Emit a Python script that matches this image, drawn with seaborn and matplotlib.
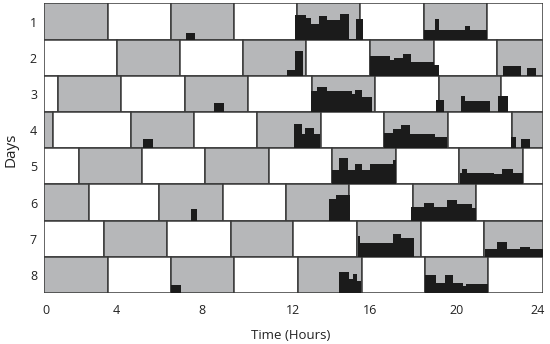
import matplotlib
matplotlib.use("Agg")
import matplotlib.pyplot as plt
from matplotlib.patches import Rectangle
import seaborn as sns

sns.set_theme(style="white")
plt.rcParams["font.family"] = ["Open Sans", "DejaVu Sans"]

# ---- data -------------------------------------------------------------
days = [1, 2, 3, 4, 5, 6, 7, 8]

# Boundaries (hours) of the alternating light/dark blocks on each day
block_edges = [
    [0, 3.06, 6.11, 9.15, 12.15, 15.21, 18.27, 21.31, 24],
    [0, 3.50, 6.54, 9.58, 12.60, 15.67, 18.75, 21.80, 24],
    [0, 0.66, 3.72, 6.76, 9.81, 12.87, 15.91, 18.98, 22.00, 24],
    [0, 0.45, 4.17, 7.20, 10.26, 13.30, 16.36, 19.41, 22.49, 24],
    [0, 1.67, 4.71, 7.76, 10.81, 13.87, 16.92, 19.98, 23.03, 24],
    [0, 2.18, 5.55, 8.60, 11.64, 14.69, 17.73, 20.78, 24],
    [0, 2.89, 5.91, 8.98, 11.99, 15.07, 18.12, 21.18, 24],
    [0, 3.06, 6.09, 9.14, 12.23, 15.28, 18.33, 21.37, 24],
]
# Does the day start with a dark (grey) block?
starts_dark = [True, False, False, True, False, True, False, True]

# Activity bouts: day, bin edges (hours), relative activity per bin
bout_day = [1, 1, 1,
            2, 2, 2,
            3, 3, 3,
            4, 4, 4, 4,
            5, 5,
            6, 6, 6,
            7, 7,
            8, 8, 8]
bout_edges = [
    [6.83, 7.28],
    [12.09, 12.60, 12.83, 13.24, 13.60, 14.24, 14.69, 15.01, 15.36],
    [18.29, 18.81, 19.01, 20.27, 20.48, 21.32],
    [11.70, 12.07, 12.47],
    [15.68, 16.64, 16.85, 17.25, 17.65, 18.76, 18.99],
    [22.08, 22.96, 23.22, 23.67],
    [8.20, 8.66],
    [12.83, 13.12, 13.60, 14.80, 14.96, 15.31, 15.76],
    [18.86, 19.24, 20.04, 20.25, 21.45, 21.85, 22.33],
    [4.78, 5.22],
    [12.03, 12.43, 12.56, 12.97, 13.28],
    [16.37, 16.80, 17.17, 17.60, 18.82, 19.37],
    [22.46, 22.68, 22.93, 23.38],
    [13.87, 14.21, 14.64, 14.94, 15.30, 15.66, 16.79, 16.92],
    [20.02, 20.08, 20.35, 21.62, 22.03, 22.54, 23.03],
    [7.07, 7.36],
    [13.72, 14.03, 14.27, 14.72],
    [17.65, 18.29, 18.77, 19.37, 19.87, 20.57, 20.78],
    [15.08, 15.22, 16.77, 17.19, 17.81],
    [21.19, 21.77, 22.29, 22.91, 23.38, 24.00],
    [6.11, 6.59],
    [14.18, 14.69, 14.86, 15.07, 15.24],
    [18.34, 18.85, 19.27, 19.65, 20.17, 20.31, 21.37],
]
bout_levels = [
    [0.17],
    [0.67, 0.59, 0.42, 0.65, 0.54, 0.72, 0.03, 0.56],
    [0.26, 0.58, 0.26, 0.39, 0.26],
    [0.15, 0.69],
    [0.55, 0.44, 0.49, 0.61, 0.37, 0.29],
    [0.26, 0.0, 0.23],
    [0.24],
    [0.59, 0.68, 0.57, 0.51, 0.61, 0.41],
    [0.33, 0.0, 0.43, 0.31, 0.0, 0.43],
    [0.25],
    [0.68, 0.40, 0.56, 0.40],
    [0.42, 0.52, 0.63, 0.39, 0.30],
    [0.30, 0.0, 0.25],
    [0.39, 0.72, 0.41, 0.56, 0.41, 0.56, 0.67],
    [0.32, 0.44, 0.32, 0.30, 0.44, 0.32],
    [0.32],
    [0.61, 0.70, 0.72],
    [0.39, 0.50, 0.39, 0.58, 0.45, 0.36],
    [0.59, 0.39, 0.63, 0.52],
    [0.21, 0.40, 0.23, 0.27, 0.22],
    [0.22],
    [0.59, 0.39, 0.54, 0.34],
    [0.49, 0.28, 0.49, 0.28, 0.20, 0.26],
]

hour_labels = ["0", "4", "8", "12", "16", "20", "24"]
hour_label_pos = [0.08, 3.48, 7.61, 11.99, 15.68, 19.85, 23.76]

# ---- styling ----------------------------------------------------------
dark_fill = "#b6b7b9"
light_fill = "#ffffff"
edge_col = "#3a3a3a"
act_col = "#1b1b1b"

fig = plt.figure(figsize=(5.5, 3.44), dpi=100)
ax = fig.add_axes([0.08, 0.148, 0.9073, 0.842])

# light/dark blocks, one row per day (day 1 on top)
for row, (edges, dark) in enumerate(zip(block_edges, starts_dark)):
    for k in range(len(edges) - 1):
        is_dark = dark if k % 2 == 0 else not dark
        ax.add_patch(Rectangle((edges[k], row), edges[k + 1] - edges[k], 1,
                               facecolor=dark_fill if is_dark else light_fill,
                               edgecolor=edge_col, linewidth=1.1, zorder=1))

# activity histograms rising from the bottom of each day's row
for d, edges, levels in zip(bout_day, bout_edges, bout_levels):
    base = d
    ax.stairs([base - v for v in levels], edges, baseline=base, fill=True,
              color=act_col, linewidth=0, zorder=3)

ax.set_xlim(0, 24)
ax.set_ylim(8, 0)
for s in ax.spines.values():
    s.set_visible(False)

ax.set_xticks(hour_label_pos)
ax.set_xticklabels(hour_labels)
ax.set_yticks([d - 0.5 for d in days])
ax.set_yticklabels([str(d) for d in days])
ax.tick_params(axis="x", length=0, pad=8, labelsize=9, colors="#222222")
ax.tick_params(axis="y", length=0, pad=5, labelsize=9, colors="#222222")
ax.grid(False)

ax.set_xlabel("Time (Hours)", fontsize=9.5, color="#222222", va="center")
ax.xaxis.set_label_coords(0.495, -0.145)
ax.set_ylabel("Days", fontsize=11, color="#222222", va="center", ha="center")
ax.yaxis.set_label_coords(-0.066, 0.494)

fig.savefig("out.png", dpi=100)
